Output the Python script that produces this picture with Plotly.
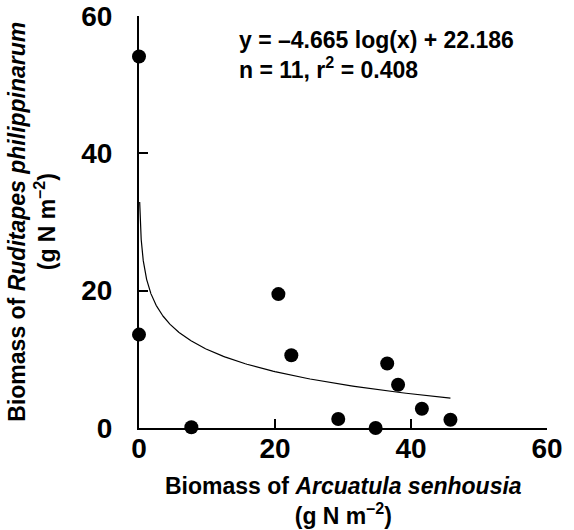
import numpy as np
import plotly.graph_objects as go

# Data
arcuatula = [0.0, 0.0, 7.7, 20.5, 22.4, 29.3, 34.8, 36.5, 38.1, 41.6, 45.8]
ruditapes = [54.1, 13.6, 0.1, 19.5, 10.6, 1.3, 0.0, 9.4, 6.3, 2.8, 1.2]

# Regression coefficients (from the printed equation, natural log)
slope = -4.665
intercept = 22.186
fit_x_min = 0.1
fit_x_max = 45.8

xticks = [0, 20, 40, 60]
yticks = [0, 20, 40, 60]

fit_x = np.geomspace(fit_x_min, fit_x_max, 400)
fit_y = slope * np.log(fit_x) + intercept

FONT = "Liberation Sans, Arial, Helvetica, sans-serif"

fig = go.Figure()
fig.add_trace(go.Scatter(x=fit_x, y=fit_y, mode="lines",
                         line=dict(color="black", width=1.2),
                         hoverinfo="skip", showlegend=False))
fig.add_trace(go.Scatter(x=arcuatula, y=ruditapes, mode="markers",
                         marker=dict(color="black", size=14),
                         cliponaxis=False, showlegend=False))

axis_common = dict(
    showgrid=False, zeroline=False, showline=True, linecolor="black",
    linewidth=2, ticks="inside", ticklen=9, tickwidth=1.5, tickcolor="black",
    tickfont=dict(family=FONT, size=28, color="black", weight="bold"),
    range=[0, 60], tickmode="array", fixedrange=True,
)

fig.update_xaxes(**axis_common, tickvals=xticks, ticktext=[str(v) for v in xticks],
                 ticklabelstandoff=-6)
fig.update_yaxes(**axis_common, tickvals=yticks, ticktext=[str(v) for v in yticks],
                 ticklabelstandoff=19)

fig.add_annotation(
    xref="paper", yref="paper", x=0.5, y=-0.177, xanchor="center", yanchor="middle",
    text="Biomass of <i>Arcuatula senhousia</i><br>(g N m<sup>–2</sup>)",
    showarrow=False, align="center",
    font=dict(family=FONT, size=23, color="black", weight="bold"),
)
fig.add_annotation(
    xref="paper", yref="paper", x=-0.263, y=0.5, xanchor="center", yanchor="middle",
    text="Biomass of <i>Ruditapes philippinarum</i><br>(g N m<sup>–2</sup>)",
    showarrow=False, align="center", textangle=-90,
    font=dict(family=FONT, size=23, color="black", weight="bold"),
)
fig.add_annotation(
    xref="x", yref="y", x=14.4, y=54.3, xanchor="left", yanchor="middle",
    text=f"y = –{abs(slope):.3f} log(x) + {intercept:.3f}<br>n = 11, r<sup>2</sup> = 0.408",
    showarrow=False, align="left",
    font=dict(family=FONT, size=23, color="black", weight="bold"),
)

fig.update_layout(
    width=574, height=530,
    margin=dict(l=138.5, r=27, t=16, b=102, autoexpand=False),
    plot_bgcolor="white", paper_bgcolor="white",
)

fig.write_html("out.html")
